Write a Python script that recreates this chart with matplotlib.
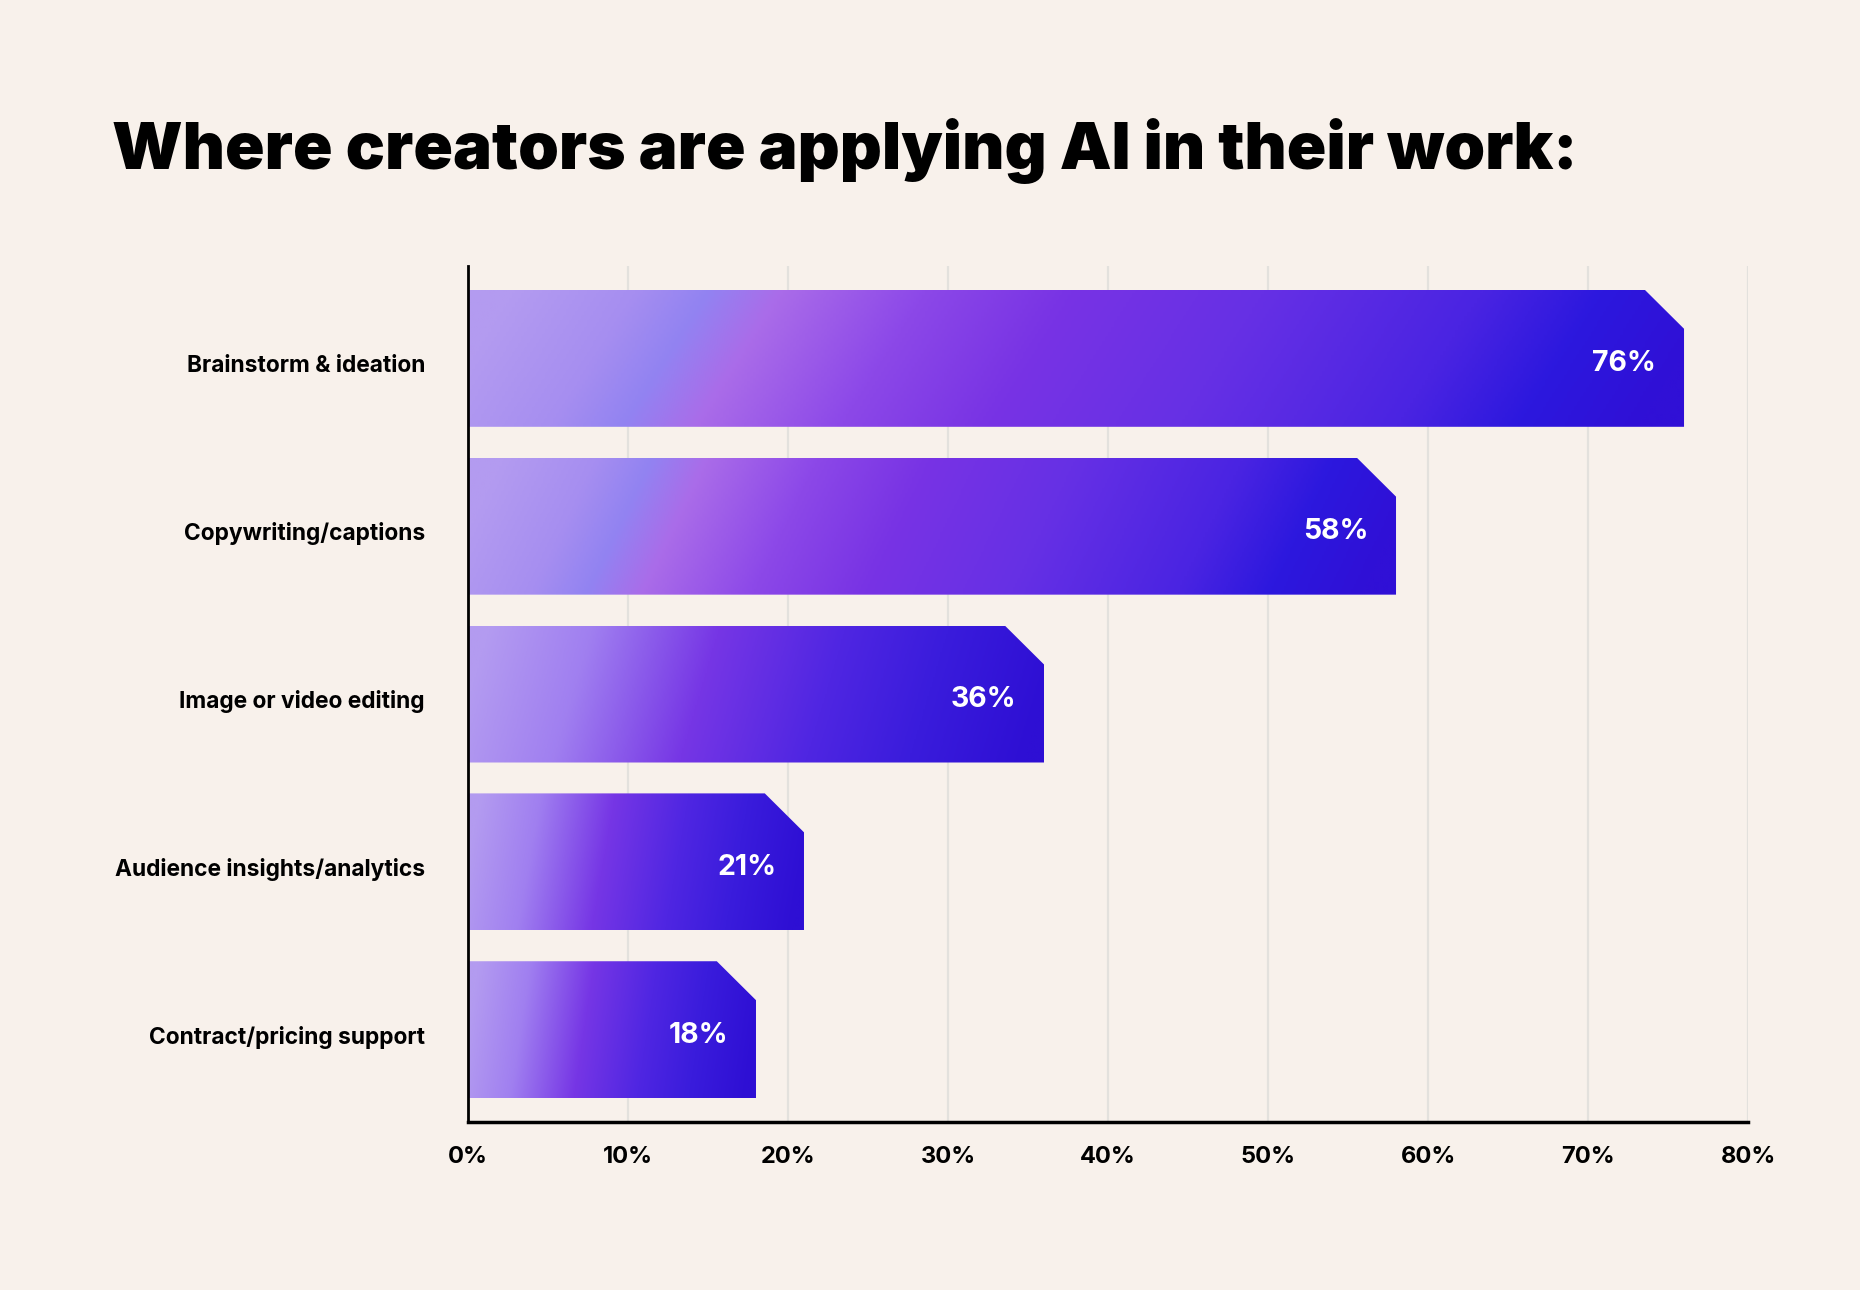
import numpy as np
import matplotlib
matplotlib.use("Agg")
import matplotlib.pyplot as plt
import matplotlib.transforms as mtransforms
from matplotlib.colors import LinearSegmentedColormap
from matplotlib.patches import Polygon

# data
categories = ['Brainstorm & ideation', 'Copywriting/captions', 'Image or video editing',
              'Audience insights/analytics', 'Contract/pricing support']
values = [76, 58, 36, 21, 18]
xticks = [0, 10, 20, 30, 40, 50, 60, 70, 80]
title = 'Where creators are applying AI in their work:'

bg = '#f8f1eb'
# long bars get the soft streaks, short ones a plain sweep
streak_cmap = LinearSegmentedColormap.from_list('streak', [
    (0.00, '#b39bf0'), (0.10, '#a68ef0'), (0.16, '#9283f2'), (0.22, '#aa6ce9'),
    (0.34, '#8c48e8'), (0.46, '#7833e4'), (0.62, '#6630e5'), (0.80, '#4a24e2'),
    (0.90, '#2c18de'), (1.00, '#3010d6')])
plain_cmap = LinearSegmentedColormap.from_list('plain', [
    (0.00, '#b39bf0'), (0.18, '#a07ff0'), (0.40, '#7636e5'), (0.62, '#4f26e2'),
    (0.80, '#3a1cdc'), (1.00, '#2e0fd4')])

plt.rcParams['font.family'] = ['Inter', 'DejaVu Sans']

fig = plt.figure(figsize=(18.6, 12.9), dpi=100, facecolor=bg)
ax = fig.add_axes([0.2516, 0.1302, 0.6882, 0.6636])
ax.set_facecolor(bg)

bar_h = 0.816
cut_x, cut_y = 2.45, 0.232

ny, nx = 60, 400
yy, xx = np.mgrid[0:1:ny * 1j, 0:1:nx * 1j]
grad = np.clip(xx - 0.07 * (yy - 0.5), 0, 1)

for i, v in enumerate(values):
    top, bot = i - bar_h / 2, i + bar_h / 2
    poly = Polygon([(0, top), (v - cut_x, top), (v, top + cut_y), (v, bot), (0, bot)],
                   closed=True, facecolor='none', edgecolor='none')
    ax.add_patch(poly)
    cmap = streak_cmap if v > 50 else plain_cmap
    im = ax.imshow(grad, cmap=cmap, extent=(0, v, bot, top), origin='lower',
                   aspect='auto', interpolation='bilinear', zorder=2)
    im.set_clip_path(poly)
    ax.annotate(f'{v}%', xy=(v, i), xytext=(-20, -4), textcoords='offset points',
                ha='right', va='center', color='white', fontsize=20.5,
                fontweight='bold', zorder=3)

ax.set_xlim(0, 80)
ax.set_ylim(4.55, -0.55)

for t in xticks[1:]:
    ax.axvline(t, color='#e3e1dd', linewidth=1.6, zorder=0)

ax.set_xticks(xticks)
ax.set_xticklabels([f'{t}%' for t in xticks], fontsize=17, fontweight='bold')
ax.set_yticks(range(len(categories)))
ax.set_yticklabels(categories, fontsize=16.4, fontweight='bold')
ax.tick_params(axis='x', length=0, pad=17)
ax.tick_params(axis='y', length=0, pad=31)
shift = mtransforms.ScaledTranslation(0, -5 / 100, fig.dpi_scale_trans)
for lab in ax.get_yticklabels():
    lab.set_transform(lab.get_transform() + shift)

for s in ['top', 'right']:
    ax.spines[s].set_visible(False)
ax.spines['left'].set_linewidth(2)
ax.spines['bottom'].set_linewidth(2.5)
ax.spines['left'].set_zorder(4)

fig.text(0.06, 0.869, title, fontsize=47, fontweight='black', ha='left',
         va='baseline', color='black')

fig.savefig('out.png', dpi=100, facecolor=bg)
